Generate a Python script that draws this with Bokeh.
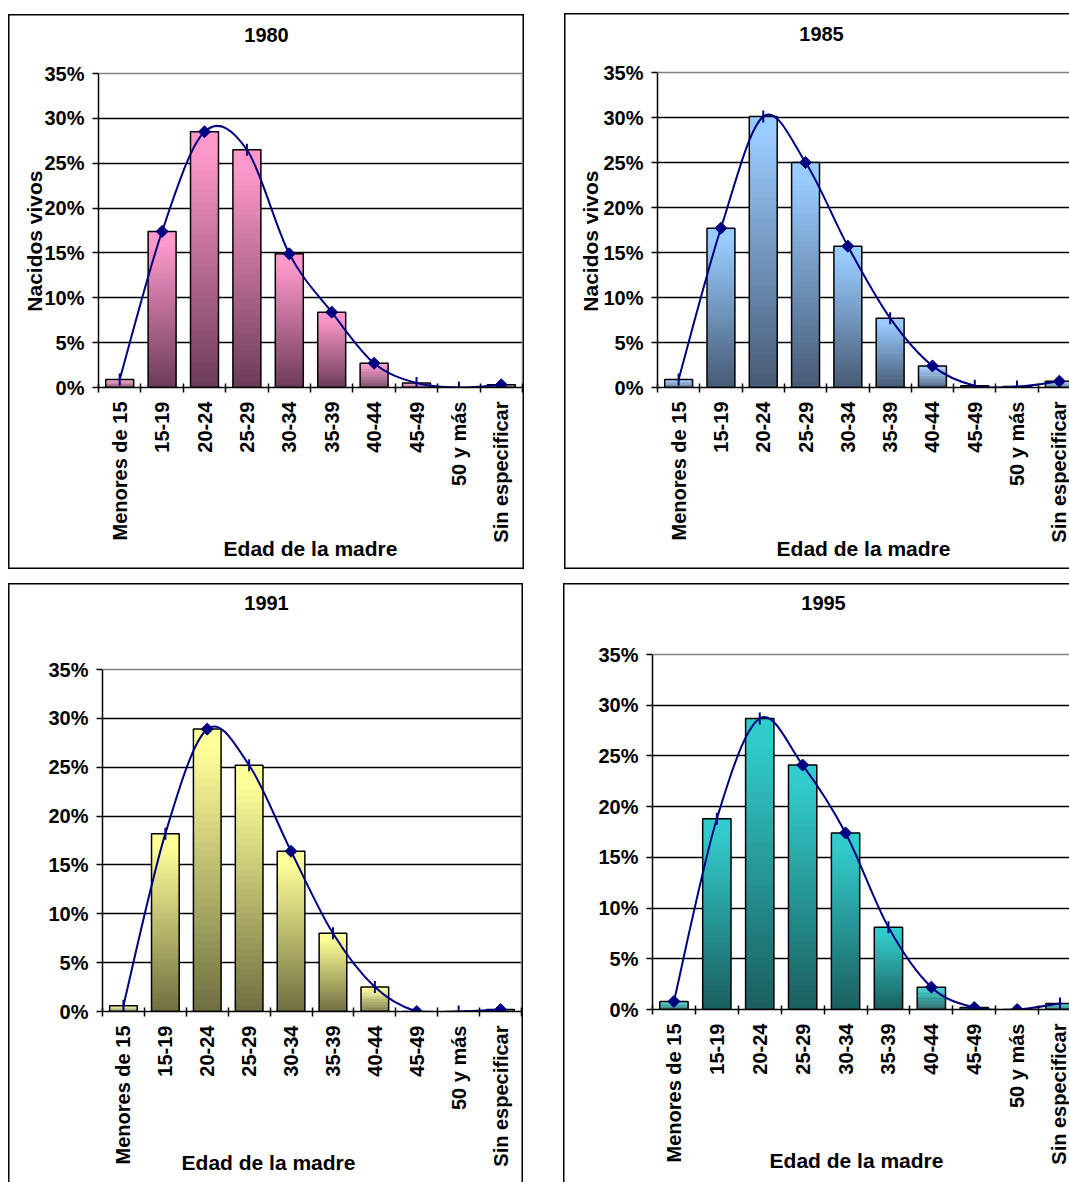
import numpy as np
from bokeh.plotting import figure
from bokeh.models import (FixedTicker, LinearAxis, Span, Label, PrintfTickFormatter,
                          Range1d, Grid)
from bokeh.embed import file_html
from bokeh.resources import INLINE

# ---------------- data ----------------
categories = ["Menores de 15", "15-19", "20-24", "25-29", "30-34", "35-39",
              "40-44", "45-49", "50 y más", "Sin especificar"]
years = ["1980", "1985", "1991", "1995"]

pct_1980 = [0.9, 17.4, 28.5, 26.5, 14.9, 8.4, 2.7, 0.5, 0.0, 0.3]
pct_1985 = [0.9, 17.7, 30.1, 25.0, 15.7, 7.7, 2.4, 0.2, 0.1, 0.7]
pct_1991 = [0.6, 18.2, 28.9, 25.2, 16.4, 8.0, 2.5, 0.0, 0.0, 0.2]
pct_1995 = [0.8, 18.8, 28.7, 24.1, 17.4, 8.1, 2.2, 0.2, 0.0, 0.6]

y_ticks = [0, 5, 10, 15, 20, 25, 30, 35]
y_label = "Nacidos vivos"
x_label = "Edad de la madre"

# marker style per point (D = diamond, I = vertical dash)
markers_1980 = "IDDIDDDIID"
markers_1985 = "IDIDDIDIID"
markers_1991 = "IIDIDIIDID"
markers_1995 = "DIIDDIDDDI"

FONT = "Liberation Sans"
NAVY = "#000080"
FS = "20px"
FS_AX = "21px"
TEXT = dict(text_font=FONT, text_font_style="bold", text_color="black")


def hex_rgb(h):
    h = h.lstrip("#")
    return tuple(int(h[i:i + 2], 16) for i in (0, 2, 4))


def mix(c_dark, c_light, f):
    a, b = hex_rgb(c_dark), hex_rgb(c_light)
    return "#%02x%02x%02x" % tuple(int(round(a[i] + (b[i] - a[i]) * f)) for i in range(3))


def smooth(xs, ys):
    n = len(xs)
    out = {k: [] for k in ("x0", "y0", "x1", "y1", "cx0", "cy0", "cx1", "cy1")}
    for i in range(n - 1):
        a = i - 1 if i > 0 else i
        d = i + 2 if i + 2 < n else i + 1
        out["x0"].append(xs[i]); out["y0"].append(ys[i])
        out["x1"].append(xs[i + 1]); out["y1"].append(ys[i + 1])
        out["cx0"].append(xs[i] + (xs[i + 1] - xs[a]) / 6.0)
        out["cy0"].append(ys[i] + (ys[i + 1] - ys[a]) / 6.0)
        out["cx1"].append(xs[i + 1] - (xs[d] - xs[i]) / 6.0)
        out["cy1"].append(ys[i + 1] - (ys[d] - ys[i]) / 6.0)
    return out


def title_axis(value, text, orientation, standoff):
    """Tick-less companion axis that carries one axis title at an exact position."""
    return LinearAxis(ticker=FixedTicker(ticks=[value]),
                      major_label_overrides={value: text},
                      major_label_orientation=orientation,
                      major_label_standoff=standoff,
                      major_label_text_font=FONT, major_label_text_font_style="bold",
                      major_label_text_font_size=FS_AX, major_label_text_color="black",
                      axis_line_color=None, major_tick_line_color=None,
                      minor_tick_line_color=None,
                      major_tick_out=0, major_tick_in=0, minor_tick_out=0, minor_tick_in=0)


def panel(year, values, markers, light, dark, g):
    bx, by, bw, bh = g["box"]
    ax_x, cat_w, y35, y0 = g["axis_x"], g["cat_w"], g["y35"], g["y0"]
    n = len(categories)
    L = ax_x - bx
    if g["cut"]:
        R = 0
        xend = -0.5 + (bx + bw - ax_x) / cat_w
    else:
        xend = n - 0.5
        R = int(round(bx + bw - (ax_x + n * cat_w)))
    T = 2
    B = (by + bh) - y0
    ytop = y_ticks[-1] * (y0 - (by + T)) / (y0 - y35)

    p = figure(width=bw, height=bh, x_range=Range1d(-0.5, xend),
               y_range=Range1d(0, ytop), output_backend="svg", toolbar_location=None,
               x_axis_type=None, y_axis_type=None,
               min_border_left=L, min_border_right=R, min_border_top=T, min_border_bottom=B,
               styles={"position": "absolute", "left": f"{bx}px", "top": f"{by}px",
                       "background": "white", "box-shadow": g["shadow"]})
    p.border_fill_color = None
    p.background_fill_color = None
    p.outline_line_color = None

    def px_to_data(cx, cy):
        return (round(-0.5 + (cx - ax_x) / cat_w, 4),
                round(y_ticks[-1] * (y0 - cy) / (y0 - y35), 4))

    xs = list(range(n))

    # horizontal grid + plot-area border (grey)
    p.add_layout(Grid(dimension=1, ticker=FixedTicker(ticks=y_ticks[1:-1]),
                      grid_line_color="black", grid_line_width=1.5))
    p.add_layout(Span(location=y_ticks[-1], dimension="width", line_color="#808080", line_width=1.5))
    if not g["cut"]:
        p.segment(x0=[xs[-1] + 0.5], y0=[y_ticks[0]], x1=[xs[-1] + 0.5], y1=[y_ticks[-1]],
                  line_color="#808080", line_width=1.5)

    # gradient bars
    N = 40
    hw = 0.33
    Lq, Rq, Bq, Tq, C = [], [], [], [], []
    for x, v in zip(xs, values):
        if v <= 0:
            continue
        for k in range(N):
            Lq.append(x - hw); Rq.append(x + hw)
            Bq.append(v * k / N); Tq.append(min(v, v * (k + 1.4) / N))
            f = (k + 0.5) / N
            C.append(mix(dark, light, min(1.0, f * 1.08)))
    p.quad(left=Lq, right=Rq, bottom=Bq, top=Tq, fill_color=C, line_color=None)
    p.quad(left=[x - hw for x in xs], right=[x + hw for x in xs], bottom=0, top=values,
           fill_color=None, line_color="black", line_width=1.5)

    # smoothed line with markers
    s = smooth(xs, values)
    p.bezier(**s, line_color=NAVY, line_width=2)
    dx = [x for x, m in zip(xs, markers) if m == "D"]
    dy = [v for v, m in zip(values, markers) if m == "D"]
    ix = [x for x, m in zip(xs, markers) if m == "I"]
    iy = [v for v, m in zip(values, markers) if m == "I"]
    p.scatter(dx, dy, marker="square", angle=np.pi / 4, size=8.5,
              fill_color=NAVY, line_color=NAVY)
    p.scatter(ix, iy, marker="dash", angle=np.pi / 2, size=12,
              line_color=NAVY, line_width=2)

    # y axis
    yax = LinearAxis(ticker=FixedTicker(ticks=y_ticks), bounds=(y_ticks[0], y_ticks[-1]),
                     formatter=PrintfTickFormatter(format="%d%%"),
                     major_label_text_font=FONT, major_label_text_font_style="bold",
                     major_label_text_font_size=FS, major_label_text_color="black",
                     major_label_standoff=8,
                     major_tick_in=0, major_tick_out=6, minor_tick_in=0, minor_tick_out=0,
                     major_tick_line_color="black", major_tick_line_width=1.5,
                     axis_line_color="black", axis_line_width=1.5)
    p.add_layout(yax, "left")
    if g["yl_top"] is not None:
        _, yc = px_to_data(0, g["yl_top"])
        p.add_layout(title_axis(yc, y_label, np.pi / 2, g["yl_standoff"]), "left")

    # x axis (ticks at category boundaries, labels at centres)
    xax = LinearAxis(ticker=FixedTicker(ticks=xs, minor_ticks=[x - 0.5 for x in xs] + [xs[-1] + 0.5]),
                     major_label_overrides={x: c for x, c in zip(xs, categories)},
                     major_label_orientation=np.pi / 2,
                     axis_label=x_label if g["xl_pos"] is None else None,
                     axis_label_standoff=-9,
                     axis_label_text_font=FONT, axis_label_text_font_style="bold",
                     axis_label_text_font_size=FS_AX, axis_label_text_color="black",
                     major_label_text_font=FONT, major_label_text_font_style="bold",
                     major_label_text_font_size=FS, major_label_text_color="black",
                     major_label_standoff=9,
                     major_tick_in=0, major_tick_out=0, minor_tick_in=4, minor_tick_out=5,
                     minor_tick_line_color="black", minor_tick_line_width=1.5,
                     axis_line_color="black", axis_line_width=1.5)
    p.add_layout(xax, "below")
    if g["xl_pos"] is not None:
        cxd, _ = px_to_data(*g["xl_pos"])
        p.add_layout(title_axis(cxd, x_label, "horizontal", -19), "below")

    tx, ty = px_to_data(*g["t_pos"])
    p.add_layout(Label(x=tx, y=ty, text=year, text_align="center", text_baseline="middle",
                       text_font_size=FS, **TEXT))
    return p


BW = "1.5px"
geoms = [
    dict(box=(8, 14, 516, 555), axis_x=98, cat_w=42.4, y35=73, y0=387, cut=False,
         shadow=f"inset {BW} {BW} 0 0 #000, inset -{BW} -{BW} 0 0 #000",
         yl_top=170, yl_standoff=7, xl_pos=None, t_pos=(266, 35)),
    dict(box=(564, 13, 505, 556), axis_x=657, cat_w=42.3, y35=72, y0=387, cut=True,
         shadow=f"inset {BW} {BW} 0 0 #000, inset 0 -{BW} 0 0 #000",
         yl_top=170, yl_standoff=10, xl_pos=None, t_pos=(821, 33)),
    dict(box=(8, 583, 515, 599), axis_x=102, cat_w=41.9, y35=669, y0=1011, cut=False,
         shadow=f"inset {BW} {BW} 0 0 #000, inset -{BW} 0 0 0 #000",
         yl_top=None, xl_pos=(268, 1163), t_pos=(266, 603)),
    dict(box=(563, 583, 506, 599), axis_x=652, cat_w=42.9, y35=654, y0=1009, cut=True,
         shadow=f"inset {BW} {BW} 0 0 #000",
         yl_top=None, xl_pos=(856, 1163), t_pos=(823, 603)),
]

p1980 = panel(years[0], pct_1980, markers_1980, "#FF99CC", "#6C3B59", geoms[0])
p1985 = panel(years[1], pct_1985, markers_1985, "#99CCFF", "#465A74", geoms[1])
p1991 = panel(years[2], pct_1991, markers_1991, "#FFFF99", "#6E6E40", geoms[2])
p1995 = panel(years[3], pct_1995, markers_1995, "#33CCCC", "#1A5E5E", geoms[3])

open("out.html", "w").write(file_html([p1980, p1985, p1991, p1995], INLINE))
